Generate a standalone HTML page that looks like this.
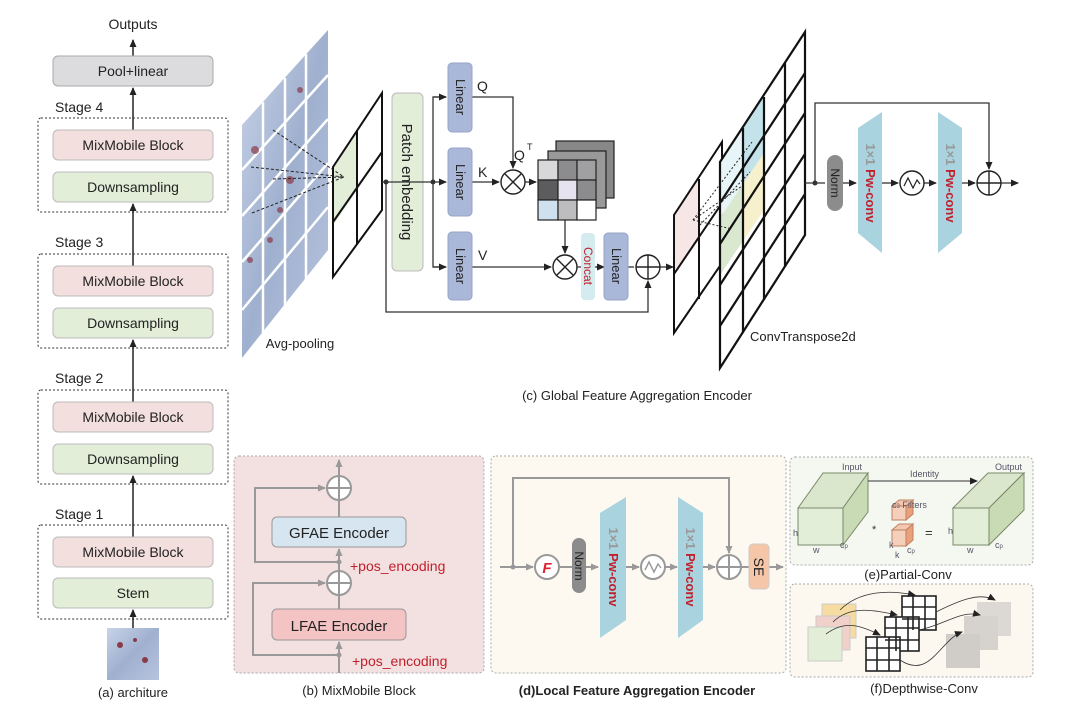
<!DOCTYPE html>
<html><head><meta charset="utf-8"><style>
html,body{margin:0;padding:0;background:#fff}
svg{display:block;font-family:"Liberation Sans",sans-serif}
</style></head><body>
<svg width="1076" height="717" viewBox="0 0 1076 717" xmlns="http://www.w3.org/2000/svg">
<defs>
<marker id="a" markerWidth="8" markerHeight="8" refX="7" refY="4" orient="auto" markerUnits="userSpaceOnUse"><path d="M0,0.5 L8,4 L0,7.5z" fill="#222"/></marker>
<marker id="g" markerWidth="8" markerHeight="8" refX="7" refY="4" orient="auto" markerUnits="userSpaceOnUse"><path d="M0,0.5 L8,4 L0,7.5z" fill="#999"/></marker>
<linearGradient id="img" x1="0" y1="0" x2="1" y2="1"><stop offset="0" stop-color="#c9d3e8"/><stop offset="0.5" stop-color="#9fb0cf"/><stop offset="1" stop-color="#b8c4de"/></linearGradient>
</defs>

<!-- (a) architecture -->
<g font-size="14" fill="#222">
<text x="133" y="29" text-anchor="middle">Outputs</text>
<line x1="133" y1="56" x2="133" y2="40" stroke="#222" stroke-width="1.5" marker-end="url(#a)"/>
<rect x="53" y="56" width="160" height="30" rx="5" fill="#dcdcdf" stroke="#aaa"/>
<text x="133" y="76" text-anchor="middle">Pool+linear</text>
<line x1="133" y1="130" x2="133" y2="88" stroke="#222" stroke-width="1.5" marker-end="url(#a)"/>

<text x="55" y="112">Stage 4</text>
<rect x="38" y="118" width="190" height="94" rx="3" fill="none" stroke="#333" stroke-dasharray="2,2"/>
<rect x="53" y="130" width="160" height="30" rx="5" fill="#f3dfdd" stroke="#bbb"/>
<text x="133" y="150" text-anchor="middle">MixMobile Block</text>
<rect x="53" y="172" width="160" height="30" rx="5" fill="#e3eed9" stroke="#bbb"/>
<text x="133" y="192" text-anchor="middle">Downsampling</text>
<line x1="133" y1="266" x2="133" y2="204" stroke="#222" stroke-width="1.5" marker-end="url(#a)"/>

<text x="55" y="247">Stage 3</text>
<rect x="38" y="254" width="190" height="94" rx="3" fill="none" stroke="#333" stroke-dasharray="2,2"/>
<rect x="53" y="266" width="160" height="30" rx="5" fill="#f3dfdd" stroke="#bbb"/>
<text x="133" y="286" text-anchor="middle">MixMobile Block</text>
<rect x="53" y="308" width="160" height="30" rx="5" fill="#e3eed9" stroke="#bbb"/>
<text x="133" y="328" text-anchor="middle">Downsampling</text>
<line x1="133" y1="402" x2="133" y2="340" stroke="#222" stroke-width="1.5" marker-end="url(#a)"/>

<text x="55" y="383">Stage 2</text>
<rect x="38" y="390" width="190" height="94" rx="3" fill="none" stroke="#333" stroke-dasharray="2,2"/>
<rect x="53" y="402" width="160" height="30" rx="5" fill="#f3dfdd" stroke="#bbb"/>
<text x="133" y="422" text-anchor="middle">MixMobile Block</text>
<rect x="53" y="444" width="160" height="30" rx="5" fill="#e3eed9" stroke="#bbb"/>
<text x="133" y="464" text-anchor="middle">Downsampling</text>
<line x1="133" y1="537" x2="133" y2="476" stroke="#222" stroke-width="1.5" marker-end="url(#a)"/>

<text x="55" y="519">Stage 1</text>
<rect x="38" y="525" width="190" height="94" rx="3" fill="none" stroke="#333" stroke-dasharray="2,2"/>
<rect x="53" y="537" width="160" height="30" rx="5" fill="#f3dfdd" stroke="#bbb"/>
<text x="133" y="557" text-anchor="middle">MixMobile Block</text>
<rect x="53" y="578" width="160" height="30" rx="5" fill="#e3eed9" stroke="#bbb"/>
<text x="133" y="598" text-anchor="middle">Stem</text>
<line x1="133" y1="628" x2="133" y2="610" stroke="#222" stroke-width="1.5" marker-end="url(#a)"/>
<rect x="107" y="628" width="52" height="52" fill="url(#img)"/>
<circle cx="120" cy="645" r="3" fill="#8a3a48"/><circle cx="145" cy="660" r="3" fill="#8a3a48"/><circle cx="135" cy="640" r="2" fill="#8a3a48"/>
<text x="133" y="697" text-anchor="middle" font-size="13">(a) architure</text>
</g>

<!-- (c) Global Feature Aggregation Encoder -->
<polygon points="242,125 328,30 328,250 242,358" fill="url(#img)"/>
<g stroke="#fff" stroke-width="2.5">
<line x1="263" y1="102" x2="263" y2="333"/><line x1="285" y1="78" x2="285" y2="308"/><line x1="306" y1="54" x2="306" y2="284"/>
<line x1="242" y1="170" x2="328" y2="75"/><line x1="242" y1="216" x2="328" y2="119"/><line x1="242" y1="262" x2="328" y2="163"/><line x1="242" y1="310" x2="328" y2="207"/>
</g>
<g fill="#8a3a48" opacity="0.7"><circle cx="255" cy="150" r="4"/><circle cx="290" cy="180" r="4"/><circle cx="300" cy="90" r="3"/><circle cx="270" cy="240" r="3"/><circle cx="250" cy="260" r="3"/><circle cx="280" cy="210" r="3"/></g>
<polygon points="333,167 357,130 357,190 333,226" fill="#e3eed9"/>
<polygon points="333,167 382,93 382,210 333,277" fill="none" stroke="#111" stroke-width="2"/>
<line x1="357" y1="130" x2="357" y2="244" stroke="#111" stroke-width="2"/>
<line x1="333" y1="222" x2="382" y2="152" stroke="#111" stroke-width="2"/>
<g stroke="#222" stroke-dasharray="3,2" fill="none"><line x1="273" y1="130" x2="344" y2="177"/><line x1="251" y1="167" x2="344" y2="177"/><line x1="273" y1="179" x2="344" y2="177"/><line x1="252" y1="213" x2="344" y2="177"/></g>
<text x="300" y="348" font-size="13" text-anchor="middle" fill="#222">Avg-pooling</text>

<rect x="392" y="93" width="31" height="178" rx="5" fill="#e3eed9" stroke="#bbb"/>
<text transform="translate(402,182) rotate(90)" font-size="15" text-anchor="middle" fill="#222">Patch embedding</text>

<g stroke="#333" stroke-width="1.3" fill="none">
<line x1="382" y1="182" x2="446" y2="182" marker-end="url(#a)"/>
<polyline points="446,97 433,97 433,267 446,267"/>
<line x1="433" y1="97" x2="446" y2="97" marker-end="url(#a)"/>
<line x1="433" y1="267" x2="446" y2="267" marker-end="url(#a)"/>
<polyline points="386,182 386,312 648,312 648,281" marker-end="url(#a)"/>
<polyline points="472,97 513,97 513,168" marker-end="url(#a)"/>
<line x1="472" y1="182" x2="499" y2="182" marker-end="url(#a)"/>
<line x1="525" y1="182" x2="536" y2="182" marker-end="url(#a)"/>
<line x1="565" y1="220" x2="565" y2="253" marker-end="url(#a)"/>
<line x1="472" y1="267" x2="551" y2="267" marker-end="url(#a)"/>
<line x1="577" y1="267" x2="602" y2="267"/>
<line x1="596" y1="267" x2="604" y2="267" marker-end="url(#a)"/>
<line x1="628" y1="267" x2="634" y2="267"/>
<line x1="660" y1="267" x2="673" y2="267" marker-end="url(#a)"/>
</g>
<circle cx="386" cy="182" r="2.5" fill="#333"/><circle cx="433" cy="182" r="2.5" fill="#333"/>
<g fill="#a9b7d9" stroke="#98a6c8">
<rect x="448" y="63" width="24" height="69" rx="4"/><rect x="448" y="148" width="24" height="68" rx="4"/><rect x="448" y="232" width="24" height="68" rx="4"/>
<rect x="604" y="233" width="24" height="67" rx="4"/>
</g>
<g font-size="13" fill="#222" text-anchor="middle">
<text transform="translate(456,97) rotate(90)">Linear</text>
<text transform="translate(456,182) rotate(90)">Linear</text>
<text transform="translate(456,266) rotate(90)">Linear</text>
<text transform="translate(612,266) rotate(90)">Linear</text>
</g>
<rect x="581" y="233" width="14" height="67" rx="4" fill="#d4ecef"/>
<text transform="translate(584,266) rotate(90)" font-size="12" fill="#c0202c" text-anchor="middle">Concat</text>
<g font-size="14" fill="#222"><text x="477" y="91">Q</text><text x="478" y="177">K</text><text x="478" y="260">V</text><text x="514" y="160">Q</text><text x="527" y="150" font-size="9">T</text></g>
<g fill="#fff" stroke="#222" stroke-width="1.4">
<circle cx="513" cy="182" r="12"/><circle cx="565" cy="267" r="12"/><circle cx="648" cy="267" r="12"/>
</g>
<g stroke="#222" stroke-width="1.4"><line x1="505" y1="174" x2="521" y2="190"/><line x1="521" y1="174" x2="505" y2="190"/><line x1="557" y1="259" x2="573" y2="275"/><line x1="573" y1="259" x2="557" y2="275"/><line x1="636" y1="267" x2="660" y2="267"/><line x1="648" y1="255" x2="648" y2="279"/></g>
<!-- matrices -->
<g stroke="#222" stroke-width="1.2">
<rect x="556" y="141" width="58" height="57" fill="#888"/>
<rect x="548" y="151" width="58" height="57" fill="#999"/>
<rect x="538" y="160" width="20" height="20" fill="#d8d8da"/><rect x="558" y="160" width="19" height="20" fill="#8c8c8e"/><rect x="577" y="160" width="19" height="20" fill="#a0a0a2"/>
<rect x="538" y="180" width="20" height="20" fill="#5c5c5e"/><rect x="558" y="180" width="19" height="20" fill="#e6e2f0"/><rect x="577" y="180" width="19" height="20" fill="#8c8c8e"/>
<rect x="538" y="200" width="20" height="20" fill="#cfe0ee"/><rect x="558" y="200" width="19" height="20" fill="#bdbdbf"/><rect x="577" y="200" width="19" height="20" fill="#fff"/>
</g>
<text x="637" y="400" font-size="13" text-anchor="middle" fill="#222">(c) Global Feature Aggregation Encoder</text>

<!-- ConvTranspose -->
<polygon points="674,215 699,179 699,240 674,276" fill="#f7e6e6"/>
<polygon points="674,215 722,142 722,263 674,333" fill="none" stroke="#111" stroke-width="2"/>
<line x1="699" y1="179" x2="699" y2="299" stroke="#111" stroke-width="2"/>
<line x1="674" y1="274" x2="722" y2="203" stroke="#111" stroke-width="2"/>
<polygon points="720,162 743,128 743,184 720,218" fill="#e8f5f8"/>
<polygon points="743,128 764,97 764,153 743,184" fill="#c3e2ea"/>
<polygon points="720,218 743,184 743,241 720,275" fill="#d9e8cf"/>
<polygon points="743,184 764,153 764,210 743,241" fill="#f6f0cc"/>
<g stroke="#111" stroke-width="2.2" fill="none">
<polygon points="720,162 805,32 805,235 720,368"/>
<line x1="743" y1="128" x2="743" y2="333"/><line x1="764" y1="97" x2="764" y2="300"/><line x1="785" y1="63" x2="785" y2="267"/>
<line x1="720" y1="203" x2="805" y2="73"/><line x1="720" y1="244" x2="805" y2="113"/><line x1="720" y1="285" x2="805" y2="154"/><line x1="720" y1="326" x2="805" y2="194"/>
</g>
<g stroke="#222" stroke-dasharray="2,2" fill="none"><line x1="693" y1="220" x2="752" y2="142"/><line x1="693" y1="220" x2="742" y2="186"/><line x1="693" y1="220" x2="732" y2="229"/><line x1="700" y1="225" x2="750" y2="172"/></g>
<text x="750" y="341" font-size="13" fill="#222">ConvTranspose2d</text>

<!-- FFN -->
<g stroke="#333" stroke-width="1.3" fill="none">
<line x1="805" y1="183" x2="825" y2="183"/>
<polyline points="815,183 815,103 989,103 989,169" marker-end="url(#a)"/>
<line x1="843" y1="183" x2="856" y2="183" marker-end="url(#a)"/>
<line x1="882" y1="183" x2="898" y2="183" marker-end="url(#a)"/>
<line x1="924" y1="183" x2="936" y2="183" marker-end="url(#a)"/>
<line x1="962" y1="183" x2="975" y2="183" marker-end="url(#a)"/>
<line x1="1001" y1="183" x2="1018" y2="183" marker-end="url(#a)"/>
</g>
<circle cx="815" cy="183" r="2.5" fill="#333"/>
<rect x="827" y="155" width="16" height="56" rx="8" fill="#8c8c8c"/>
<text transform="translate(831,183) rotate(90)" font-size="12" text-anchor="middle" fill="#222">Norm</text>
<polygon points="858,128 882,112 882,253 858,233" fill="#a8d3df"/>
<polygon points="938,112 962,128 962,233 938,253" fill="#a8d3df"/>
<g font-size="13" font-weight="bold" text-anchor="middle">
<text transform="translate(866,183) rotate(90)"><tspan fill="#999">1×1 </tspan><tspan fill="#c0202c">Pw-conv</tspan></text>
<text transform="translate(946,183) rotate(90)"><tspan fill="#999">1×1 </tspan><tspan fill="#c0202c">Pw-conv</tspan></text>
</g>
<circle cx="912" cy="183" r="12" fill="#fff" stroke="#222" stroke-width="1.4"/>
<polyline points="904,186 908,178 913,188 917,180 920,184" fill="none" stroke="#222" stroke-width="1.2"/>
<circle cx="989" cy="183" r="12" fill="#fff" stroke="#222" stroke-width="1.4"/>
<line x1="977" y1="183" x2="1001" y2="183" stroke="#222" stroke-width="1.4"/><line x1="989" y1="171" x2="989" y2="195" stroke="#222" stroke-width="1.4"/>

<!-- (b) MixMobile Block -->
<rect x="234" y="456" width="250" height="217" rx="5" fill="#f3e0e0" stroke="#aaa" stroke-dasharray="2,2"/>
<g stroke="#999" stroke-width="2" fill="none">
<line x1="339" y1="476" x2="339" y2="460" marker-end="url(#g)"/>
<line x1="339" y1="517" x2="339" y2="500"/>
<line x1="339" y1="571" x2="339" y2="549" marker-end="url(#g)"/>
<polyline points="339,562 255,562 255,488 325,488" marker-end="url(#g)"/>
<line x1="339" y1="609" x2="339" y2="595"/>
<line x1="339" y1="673" x2="339" y2="642" marker-end="url(#g)"/>
<polyline points="339,655 253,655 253,583 325,583" marker-end="url(#g)"/>
</g>
<circle cx="339" cy="562" r="2.5" fill="#999"/><circle cx="339" cy="655" r="2.5" fill="#999"/>
<g fill="#fff" stroke="#999" stroke-width="2"><circle cx="339" cy="488" r="12"/><circle cx="339" cy="583" r="12"/></g>
<g stroke="#999" stroke-width="2"><line x1="327" y1="488" x2="351" y2="488"/><line x1="339" y1="476" x2="339" y2="500"/><line x1="327" y1="583" x2="351" y2="583"/><line x1="339" y1="571" x2="339" y2="595"/></g>
<rect x="272" y="517" width="134" height="30" rx="5" fill="#d6e5f0" stroke="#999"/>
<text x="339" y="538" font-size="15" text-anchor="middle" fill="#222">GFAE Encoder</text>
<rect x="272" y="609" width="134" height="31" rx="5" fill="#f4c4c4" stroke="#999"/>
<text x="339" y="631" font-size="15" text-anchor="middle" fill="#222">LFAE Encoder</text>
<text x="350" y="571" font-size="14" fill="#c0202c">+pos_encoding</text>
<text x="352" y="666" font-size="14" fill="#c0202c">+pos_encoding</text>
<text x="359" y="695" font-size="13" text-anchor="middle" fill="#222">(b) MixMobile Block</text>

<!-- (d) LFAE -->
<rect x="491" y="456" width="295" height="217" rx="5" fill="#fdf8f0" stroke="#aaa" stroke-dasharray="2,2"/>
<g stroke="#999" stroke-width="2" fill="none">
<line x1="500" y1="567" x2="533" y2="567" marker-end="url(#g)"/>
<polyline points="513,567 513,478 729,478 729,553" marker-end="url(#g)"/>
<line x1="559" y1="567" x2="572" y2="567"/>
<line x1="586" y1="567" x2="598" y2="567" marker-end="url(#g)"/>
<line x1="626" y1="567" x2="639" y2="567" marker-end="url(#g)"/>
<line x1="665" y1="567" x2="677" y2="567" marker-end="url(#g)"/>
<line x1="703" y1="567" x2="715" y2="567" marker-end="url(#g)"/>
<line x1="741" y1="567" x2="749" y2="567"/>
<line x1="769" y1="567" x2="783" y2="567" marker-end="url(#g)"/>
</g>
<circle cx="513" cy="567" r="2.5" fill="#999"/>
<circle cx="547" cy="567" r="12" fill="#fff" stroke="#999" stroke-width="2"/>
<text x="547" y="573" font-size="15" font-style="italic" font-weight="bold" fill="#e0202c" text-anchor="middle">F</text>
<rect x="572" y="538" width="14" height="55" rx="7" fill="#8c8c8c"/>
<text transform="translate(575,566) rotate(90)" font-size="12" text-anchor="middle" fill="#222">Norm</text>
<polygon points="600,513 626,497 626,620 600,638" fill="#a8d3df"/>
<polygon points="678,497 703,513 703,620 678,638" fill="#a8d3df"/>
<g font-size="13" font-weight="bold" text-anchor="middle">
<text transform="translate(609,567) rotate(90)"><tspan fill="#999">1×1 </tspan><tspan fill="#c0202c">Pw-conv</tspan></text>
<text transform="translate(686,567) rotate(90)"><tspan fill="#999">1×1 </tspan><tspan fill="#c0202c">Pw-conv</tspan></text>
</g>
<circle cx="653" cy="567" r="12" fill="#fff" stroke="#999" stroke-width="2"/>
<polyline points="645,570 649,562 654,572 658,564 661,568" fill="none" stroke="#999" stroke-width="1.4"/>
<circle cx="729" cy="567" r="12" fill="#fff" stroke="#999" stroke-width="2"/>
<line x1="717" y1="567" x2="741" y2="567" stroke="#999" stroke-width="2"/><line x1="729" y1="555" x2="729" y2="579" stroke="#999" stroke-width="2"/>
<rect x="749" y="544" width="20" height="45" rx="4" fill="#f6c6a8" stroke="#ccc"/>
<text transform="translate(754,567) rotate(90)" font-size="14" text-anchor="middle" fill="#222">SE</text>
<text x="637" y="695" font-size="13" font-weight="bold" text-anchor="middle" fill="#222">(d)Local Feature Aggregation Encoder</text>

<!-- (e) Partial-Conv -->
<rect x="790" y="457" width="243" height="108" rx="5" fill="#f5f7f1" stroke="#aaa" stroke-dasharray="2,2"/>
<g stroke="#7a8a6a" stroke-width="1">
<polygon points="798,508 843,508 868,473 823,473" fill="#dbe7cc"/>
<polygon points="843,508 868,473 868,512 843,545" fill="#c9dbb4"/>
<rect x="798" y="508" width="45" height="37" fill="#e3eed9"/>
<polygon points="953,508 989,508 1024,473 988,473" fill="#dbe7cc"/>
<polygon points="989,508 1024,473 1024,510 989,545" fill="#c9dbb4"/>
<rect x="953" y="508" width="36" height="37" fill="#e3eed9"/>
</g>
<g stroke="#c08060" stroke-width="1">
<rect x="892" y="506" width="14" height="14" fill="#f4d0bc"/><polygon points="906,506 913,500 913,514 906,520" fill="#eaa07a"/><polygon points="892,506 899,500 913,500 906,506" fill="#f4c8b0"/>
<rect x="892" y="530" width="14" height="16" fill="#f4d0bc"/><polygon points="906,530 913,524 913,540 906,546" fill="#eaa07a"/><polygon points="892,530 899,524 913,524 906,530" fill="#f4c8b0"/>
</g>
<line x1="868" y1="481" x2="977" y2="481" stroke="#333" stroke-width="1" marker-end="url(#a)"/>
<g font-size="9" fill="#556">
<text x="842" y="470">Input</text><text x="910" y="477">Identity</text><text x="995" y="470">Output</text>
<text x="892" y="508">c<tspan font-size="6">3</tspan> Filters</text>
<text x="793" y="536">h</text><text x="813" y="553">w</text><text x="840" y="548">c<tspan font-size="6">p</tspan></text>
<text x="889" y="548">k</text><text x="895" y="558">k</text><text x="907" y="553">c<tspan font-size="6">p</tspan></text>
<text x="948" y="534">h</text><text x="967" y="553">w</text><text x="995" y="548">c<tspan font-size="6">p</tspan></text>
</g>
<text x="872" y="533" font-size="11" fill="#333">*</text>
<text x="925" y="537" font-size="13" fill="#333">=</text>
<text x="908" y="579" font-size="13" text-anchor="middle" fill="#222">(e)Partial-Conv</text>

<!-- (f) Depthwise-Conv -->
<rect x="790" y="584" width="243" height="93" rx="5" fill="#fcf7ef" stroke="#aaa" stroke-dasharray="2,2"/>
<rect x="822" y="604" width="34" height="34" fill="#f6dca0" stroke="#ccc"/>
<rect x="816" y="616" width="34" height="34" fill="#f0d0c8" stroke="#ccc"/>
<rect x="808" y="627" width="34" height="34" fill="#e3eed9" stroke="#ccc"/>
<rect x="977" y="602" width="34" height="34" fill="#dcd8d4"/>
<rect x="964" y="616" width="34" height="34" fill="#d6d2ce"/>
<rect x="946" y="634" width="34" height="34" fill="#d0ccc8"/>
<g stroke="#222" stroke-width="1.6" fill="#fff">
<rect x="902" y="596" width="34" height="34"/><rect x="885" y="617" width="34" height="34"/><rect x="866" y="637" width="34" height="34"/>
</g>
<g stroke="#222" stroke-width="1.6">
<line x1="913" y1="596" x2="913" y2="630"/><line x1="925" y1="596" x2="925" y2="630"/><line x1="902" y1="607" x2="936" y2="607"/><line x1="902" y1="619" x2="936" y2="619"/>
<line x1="896" y1="617" x2="896" y2="651"/><line x1="908" y1="617" x2="908" y2="651"/><line x1="885" y1="628" x2="919" y2="628"/><line x1="885" y1="640" x2="919" y2="640"/>
<line x1="877" y1="637" x2="877" y2="671"/><line x1="889" y1="637" x2="889" y2="671"/><line x1="866" y1="648" x2="900" y2="648"/><line x1="866" y1="660" x2="900" y2="660"/>
</g>
<g stroke="#333" stroke-width="0.8" fill="none">
<path d="M840,610 C860,590 890,590 915,595" marker-end="url(#a)"/>
<path d="M833,622 C850,605 875,610 897,615" marker-end="url(#a)"/>
<path d="M826,634 C845,620 860,625 880,635" marker-end="url(#a)"/>
<path d="M936,612 C960,600 980,592 995,600" marker-end="url(#a)"/>
<path d="M919,630 C945,625 960,610 980,615" marker-end="url(#a)"/>
<path d="M900,660 C930,680 940,640 962,632" marker-end="url(#a)"/>
</g>
<text x="924" y="693" font-size="13" text-anchor="middle" fill="#222">(f)Depthwise-Conv</text>
</svg>
</body></html>
